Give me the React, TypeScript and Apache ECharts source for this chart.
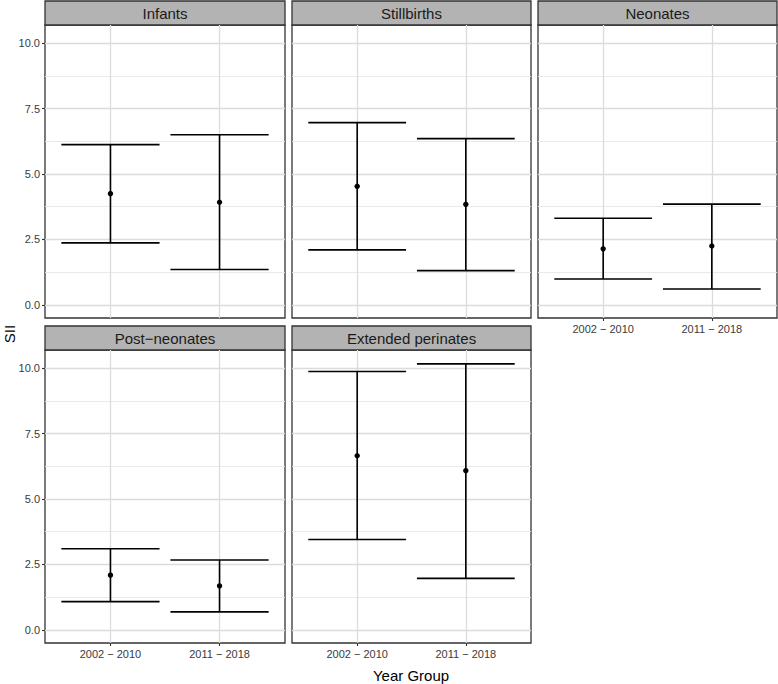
import React, { useEffect, useRef } from "react";
import * as echarts from "echarts";

const panelNames = ["Infants", "Stillbirths", "Neonates", "Post\u2212neonates", "Extended perinates"];
const yearGroups = ["2002 \u2212 2010", "2011 \u2212 2018"];
const sii2002 = [4.25, 4.53, 2.14, 2.09, 6.65];
const lower2002 = [2.37, 2.1, 0.99, 1.08, 3.45];
const upper2002 = [6.12, 6.96, 3.31, 3.1, 9.87];
const sii2011 = [3.92, 3.84, 2.25, 1.68, 6.08];
const lower2011 = [1.35, 1.31, 0.61, 0.69, 1.97];
const upper2011 = [6.5, 6.35, 3.85, 2.67, 10.16];
const yTicks = [0, 2.5, 5, 7.5, 10];

// x positions of the two groups on a 12-slot category axis (ggplot discrete expansion)
const slotCount = 12;
const groupSlots = [3, 8];

const FONT = "Liberation Sans, Arial, Helvetica, sans-serif";

const layout = [
  { left: 45, top: 25, width: 240, height: 293, yLabels: true, xLabels: false },
  { left: 292, top: 25, width: 239, height: 293, yLabels: false, xLabels: false },
  { left: 538, top: 25, width: 239, height: 293, yLabels: false, xLabels: true },
  { left: 45, top: 350, width: 240, height: 293, yLabels: true, xLabels: true },
  { left: 292, top: 350, width: 239, height: 293, yLabels: false, xLabels: true },
];

export default function App() {
  const ref = useRef<HTMLDivElement>(null);
  useEffect(() => {
    if (!ref.current) return;
    const chart = echarts.init(ref.current, undefined, { renderer: "svg" });
    const slots = Array.from({ length: slotCount }, (_, i) => String(i));
    const isGroup = (i: number) => groupSlots.indexOf(i) >= 0;

    const grids = layout.map((l) => ({
      left: l.left,
      top: l.top,
      width: l.width,
      height: l.height,
      show: true,
      borderColor: "#333333",
      borderWidth: 1.3,
      backgroundColor: "#ffffff",
      containLabel: false,
    }));

    const xAxes = layout.map((l, i) => ({
      type: "category",
      gridIndex: i,
      data: slots,
      boundaryGap: false,
      position: "bottom",
      axisLine: { show: false, onZero: false },
      axisTick: {
        show: l.xLabels,
        length: 3,
        interval: (idx: number) => isGroup(idx),
        lineStyle: { color: "#333333", width: 1.1 },
      },
      axisLabel: {
        show: l.xLabels,
        interval: (idx: number) => isGroup(idx),
        formatter: (_v: string, idx: number) => {
          const g = groupSlots.indexOf(idx);
          return g >= 0 ? yearGroups[g] : "";
        },
        color: "#3A3A3A",
        fontSize: 11,
        fontFamily: FONT,
        margin: 5,
      },
      splitLine: {
        show: true,
        interval: (idx: number) => isGroup(idx),
        lineStyle: { color: "#DCDCDC", width: 1.3 },
      },
    }));

    const yAxes = layout.map((l, i) => ({
      type: "value",
      gridIndex: i,
      min: -0.5,
      max: 10.69,
      minInterval: 2.5,
      maxInterval: 2.5,
      position: "left",
      axisLine: { show: false, onZero: false },
      axisTick: {
        show: l.yLabels,
        length: 3,
        customValues: yTicks,
        lineStyle: { color: "#333333", width: 1.1 },
      },
      axisLabel: {
        show: l.yLabels,
        customValues: yTicks,
        formatter: (v: number) => v.toFixed(1),
        color: "#3A3A3A",
        fontSize: 11,
        fontFamily: FONT,
        margin: 5,
      },
      splitLine: { show: true, lineStyle: { color: "#DCDCDC", width: 1.3 } },
      minorTick: { show: false, splitNumber: 2 },
      minorSplitLine: { show: true, lineStyle: { color: "#E6E6E6", width: 0.9 } },
    }));

    const series = panelNames.map((_, i) => ({
      type: "custom",
      xAxisIndex: i,
      yAxisIndex: i,
      encode: { x: 0, y: [1, 2, 3] },
      data: [
        [groupSlots[0], lower2002[i], upper2002[i], sii2002[i]],
        [groupSlots[1], lower2011[i], upper2011[i], sii2011[i]],
      ],
      renderItem: (_params: any, api: any) => {
        const x = api.value(0);
        const lo = api.coord([x, api.value(1)]);
        const hi = api.coord([x, api.value(2)]);
        const mid = api.coord([x, api.value(3)]);
        const step = api.coord([groupSlots[1], 0])[0] - api.coord([groupSlots[0], 0])[0];
        const hw = 0.45 * step;
        const style = { stroke: "#000000", lineWidth: 1.6 };
        return {
          type: "group",
          children: [
            { type: "line", shape: { x1: lo[0], y1: lo[1], x2: hi[0], y2: hi[1] }, style },
            { type: "line", shape: { x1: hi[0] - hw, y1: hi[1], x2: hi[0] + hw, y2: hi[1] }, style },
            { type: "line", shape: { x1: lo[0] - hw, y1: lo[1], x2: lo[0] + hw, y2: lo[1] }, style },
            { type: "circle", shape: { cx: mid[0], cy: mid[1], r: 2.7 }, style: { fill: "#000000" } },
          ],
        };
      },
    }));

    const graphics: any[] = [];
    layout.forEach((l, i) => {
      const stripTop = l.top - 24;
      graphics.push({
        type: "rect",
        shape: { x: l.left, y: stripTop, width: l.width, height: 24 },
        style: { fill: "#B3B3B3", stroke: "#333333", lineWidth: 1.3 },
      });
      graphics.push({
        type: "text",
        x: l.left + l.width / 2,
        y: stripTop + 12.5,
        style: {
          text: panelNames[i],
          fill: "#1A1A1A",
          font: `15px ${FONT}`,
          align: "center",
          verticalAlign: "middle",
        },
      });
    });
    graphics.push({
      type: "text",
      x: 411,
      y: 675,
      style: { text: "Year Group", fill: "#000000", font: `15px ${FONT}`, align: "center", verticalAlign: "middle" },
    });
    graphics.push({
      type: "text",
      x: 9,
      y: 334,
      rotation: Math.PI / 2,
      style: { text: "SII", fill: "#000000", font: `15px ${FONT}`, align: "center", verticalAlign: "middle" },
    });

    chart.setOption({
      animation: false,
      backgroundColor: "#ffffff",
      grid: grids,
      xAxis: xAxes,
      yAxis: yAxes,
      series,
      graphic: graphics,
    });
    return () => chart.dispose();
  }, []);
  return (
    <div
      ref={ref}
      style={{ position: "absolute", left: 0, top: 0, width: 778, height: 684 }}
    />
  );
}
